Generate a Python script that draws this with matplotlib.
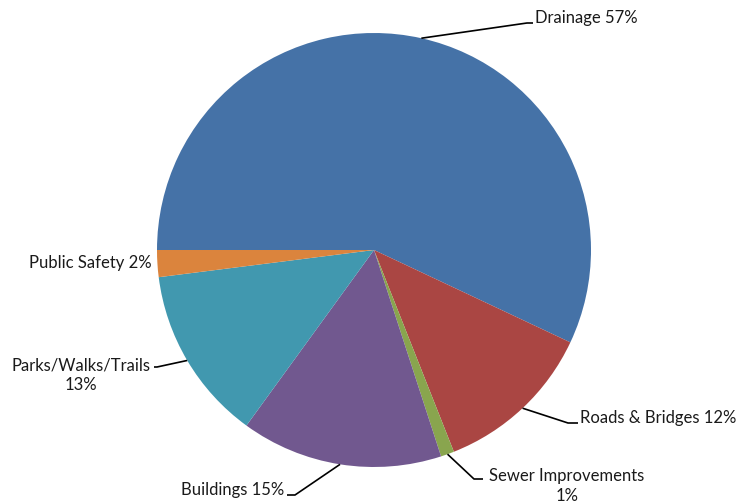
import numpy as np
import matplotlib.pyplot as plt

categories = ["Drainage", "Roads & Bridges", "Sewer Improvements", "Buildings",
              "Parks/Walks/Trails", "Public Safety"]
shares = [57, 12, 1, 15, 13, 2]
colors = ["#4572A7", "#AA4643", "#89A54E", "#71588F", "#4198AF", "#DB843D"]
label_text = ["Drainage 57%", "Roads & Bridges 12%", "Sewer Improvements\n1%",
              "Buildings 15%", "Parks/Walks/Trails\n13%", "Public Safety 2%"]

W, H = 739, 503
fig = plt.figure(figsize=(W / 100, H / 100), dpi=100)
ax = fig.add_axes([0, 0, 1, 1])

cx, cy, r = 374, H - 250, 217
wedges, _ = ax.pie(shares, colors=colors, startangle=180, counterclock=False,
                   center=(cx, cy), radius=r, frame=True,
                   wedgeprops=dict(linewidth=0))
ax.set_xlim(0, W)
ax.set_ylim(0, H)
ax.set_aspect("equal")
ax.axis("off")

# label layout: (text x, text y, ha, elbow point, line end x) in pixel coords
layout = [
    (535, 18, "left", (527, 23), 533),
    (580, 418, "left", (568, 423), 578),
    (567, 486, "center", (474, 479), 483),
    (284, 490, "right", (295, 495), 287),
    (81, 375, "center", (157, 367), 154),
    (152, 263, "right", None, None),
]

for w, txt, (tx, ty, ha, elbow, lx) in zip(wedges, label_text, layout):
    ax.text(tx, H - ty, txt, ha=ha, va="center", fontsize=12,
            family=["Lato", "DejaVu Sans"], color="#1a1a1a", linespacing=1.3)
    if elbow is None:
        continue
    mid = np.deg2rad((w.theta1 + w.theta2) / 2)
    ax_, ay_ = cx + r * np.cos(mid), cy + r * np.sin(mid)
    ex, ey = elbow
    ax.plot([ax_, ex, lx], [ay_, H - ey, H - ey], color="black", lw=1.2,
            solid_capstyle="butt")

fig.savefig("out.png", dpi=100)
